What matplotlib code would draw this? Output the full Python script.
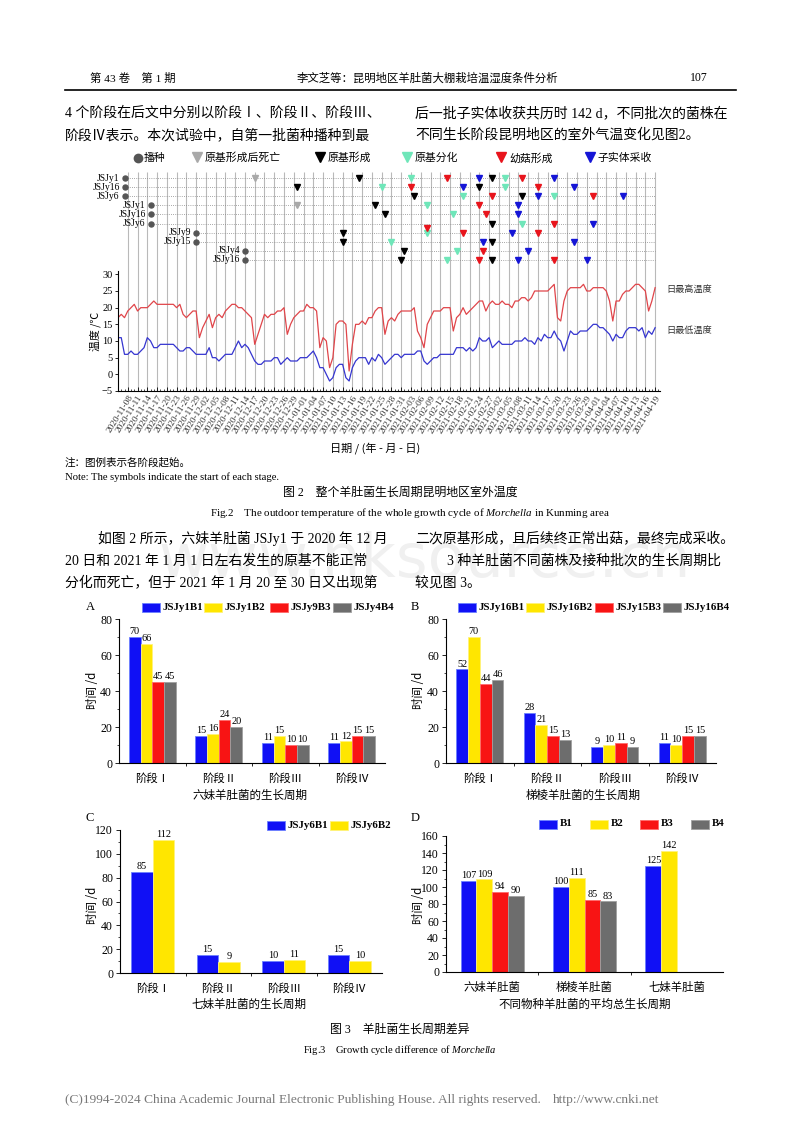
import numpy as np
import pandas as pd
import matplotlib
matplotlib.use('Agg')
import matplotlib.pyplot as plt
import matplotlib.dates as mdates
from matplotlib.patches import Rectangle

plt.rcParams['font.family'] = ['Liberation Serif', 'Noto Sans CJK SC', 'DejaVu Sans']
plt.rcParams['mathtext.fontset'] = 'custom'
plt.rcParams['mathtext.rm'] = 'Liberation Serif'
plt.rcParams['mathtext.it'] = 'Liberation Serif:italic'

FS = ['Liberation Serif', 'Noto Sans CJK SC', 'DejaVu Sans']
CJK = ['Noto Sans CJK SC', 'Liberation Serif', 'DejaVu Sans']

# ---------------- data: Fig.2 temperature ----------------
temp_start = '2020-11-05'
tmax = [17, 18, 17, 19, 20, 21, 19, 20, 20, 20,
        21, 22, 21, 21, 21, 21, 21, 21, 20, 21,
        18, 17, 18, 19, 19, 11, 14, 16, 18, 14,
        17, 18, 17, 19, 20, 21, 21, 20, 20, 19,
        18, 17, 9, 12, 15, 18, 17, 18, 18, 19,
        19, 20, 12, 15, 17, 18, 19, 19, 21, 20,
        20, 19, 8, 11, 10, 2, 5, 15, 16, 16,
        15, 1, 9, 15, 15, 16, 15, 17, 17, 19,
        20, 20, 12, 16, 17, 16, 18, 19, 19, 19,
        19, 20, 13, 11, 8, 15, 17, 19, 19, 19,
        20, 20, 20, 13, 17, 18, 20, 18, 19, 20,
        21, 22, 22, 19, 21, 22, 21, 21, 22, 21,
        21, 20, 22, 22, 23, 23, 22, 23, 25, 25,
        25, 25, 25, 26, 27, 17, 16, 22, 25, 26,
        26, 26, 26, 27, 25, 25, 26, 26, 26, 26,
        25, 22, 16, 22, 22, 24, 25, 25, 26, 27,
        27, 26, 25, 19, 22, 26]
tmin = [11, 11, 6, 6, 7, 6, 6, 7, 8, 11,
        10, 8, 8, 9, 9, 9, 9, 9, 8, 7,
        7, 8, 8, 7, 6, 6, 6, 6, 8, 5,
        5, 4, 5, 6, 6, 6, 8, 10, 8, 9,
        8, 6, 4, 3, 3, 4, 4, 4, 5, 5,
        3, 4, 5, 4, 4, 4, 5, 5, 5, 6,
        7, 5, 2, 2, 0, -2, -1, 2, 3, 3,
        -1, -2, 2, 4, 5, 5, 5, 3, 5, 4,
        6, 5, 3, 4, 5, 6, 6, 5, 6, 6,
        6, 6, 7, 7, 4, 3, 4, 5, 5, 6,
        6, 6, 6, 6, 8, 8, 8, 7, 8, 7,
        8, 11, 10, 10, 11, 8, 9, 10, 9, 9,
        9, 9, 10, 10, 10, 11, 10, 10, 9, 11,
        10, 12, 11, 11, 13, 11, 10, 7, 10, 13,
        12, 12, 13, 13, 13, 14, 15, 15, 14, 14,
        13, 12, 10, 12, 11, 11, 13, 14, 14, 14,
        13, 14, 11, 13, 12, 14]

# ---------------- data: Fig.2 stage symbols (day offset from base date) ----------------
stage_base = '2020-11-08'
row_labels = ['JSJy1', 'JSJy16', 'JSJy6', 'JSJy1', 'JSJy16', 'JSJy6',
              'JSJy9', 'JSJy15', 'JSJy4', 'JSJy16']
sow_day = [-1, -1, -1, 7, 7, 7, 21, 21, 36, 36]
stage_names = ['原基形成后死亡', '原基形成', '原基分化', '幼菇形成', '子实体采收']
stage_colors = ['#a9a9a9', '#000000', '#6fe6b9', '#e8141c', '#1515d6']
ev_dead = [(0, 39), (3, 52)]
ev_form = [(0, 71), (0, 112), (1, 52), (1, 108), (2, 88), (2, 121), (3, 76), (4, 79),
           (5, 112), (6, 66), (7, 66), (7, 112), (8, 85), (9, 84), (9, 112)]
ev_diff = [(0, 87), (0, 116), (1, 78), (1, 116), (2, 103), (2, 131), (3, 92), (4, 100),
           (5, 121), (6, 92), (7, 81), (8, 101), (9, 98)]
ev_young = [(0, 98), (0, 121), (1, 87), (1, 126), (2, 112), (2, 143), (3, 108), (4, 110),
            (5, 131), (6, 92), (6, 103), (6, 126), (8, 109), (9, 108), (9, 131)]
ev_harvest = [(0, 108), (0, 131), (1, 103), (1, 137), (2, 126), (2, 152), (3, 120), (4, 120),
              (5, 143), (6, 118), (7, 109), (7, 137), (8, 123), (9, 120), (9, 141)]
events = [ev_dead, ev_form, ev_diff, ev_young, ev_harvest]

# ---------------- data: Fig.3 ----------------
stage_groups = ['阶段Ⅰ', '阶段Ⅱ', '阶段Ⅲ', '阶段Ⅳ']
A_series = ['JSJy1B1', 'JSJy1B2', 'JSJy9B3', 'JSJy4B4']
A_vals = [[70, 15, 11, 11], [66, 16, 15, 12], [45, 24, 10, 15], [45, 20, 10, 15]]
B_series = ['JSJy16B1', 'JSJy16B2', 'JSJy15B3', 'JSJy16B4']
B_vals = [[52, 28, 9, 11], [70, 21, 10, 10], [44, 15, 11, 15], [46, 13, 9, 15]]
C_series = ['JSJy6B1', 'JSJy6B2']
C_vals = [[85, 15, 10, 15], [112, 9, 11, 10]]
D_groups = ['六妹羊肚菌', '梯棱羊肚菌', '七妹羊肚菌']
D_series = ['B1', 'B2', 'B3', 'B4']
D_vals = [[107, 100, 125], [109, 111, 142], [94, 85, None], [90, 83, None]]

bar_colors = ['#1010f5', '#ffe600', '#f81414', '#6d6d6d']
bar_edges = ['#6c80ff', '#fff27a', '#ff6a6a', '#a0a0a0']

# ---------------- figure ----------------
W, H = 800, 1132
fig = plt.figure(figsize=(8, 11.32), dpi=100)


def rect(l, t, r, b):
    return [l / W, 1 - b / H, (r - l) / W, (b - t) / H]


bg = fig.add_axes([0, 0, 1, 1])
bg.set_xlim(0, W)
bg.set_ylim(H, 0)
bg.axis('off')

# watermark
bg.text(425, 560, 'www.hksource.cn', ha='center', va='center', fontsize=44,
        color='#f0f0f0', family='DejaVu Sans', zorder=0)

# header
bg.text(90, 78, '第 43 卷　第 1 期', ha='left', va='center', fontsize=8.2, family=FS)
bg.text(427, 78, '李文芝等：昆明地区羊肚菌大棚栽培温湿度条件分析', ha='center', va='center',
        fontsize=8.2, family=CJK)
bg.text(708, 78, '107', ha='right', va='center', fontsize=8.5, family=FS)
bg.plot([65, 736], [90, 90], color='black', lw=1.2)

body = 10
bg.text(65, 113, '4 个阶段在后文中分别以阶段Ⅰ、阶段Ⅱ、阶段Ⅲ、', fontsize=body, va='center', family=FS)
bg.text(65, 135, '阶段Ⅳ表示。本次试验中，自第一批菌种播种到最', fontsize=body, va='center', family=FS)
bg.text(415, 113, '后一批子实体收获共历时 142 d，不同批次的菌株在', fontsize=body, va='center', family=FS)
bg.text(415, 135, '不同生长阶段昆明地区的室外气温变化见图2。', fontsize=body, va='center', family=FS)

bg.text(98, 538, '如图 2 所示，六妹羊肚菌 JSJy1 于 2020 年 12 月', fontsize=body, va='center', family=FS)
bg.text(65, 561, '20 日和 2021 年 1 月 1 日左右发生的原基不能正常', fontsize=body, va='center', family=FS)
bg.text(65, 583, '分化而死亡，但于 2021 年 1 月 20 至 30 日又出现第', fontsize=body, va='center', family=FS)
bg.text(415, 538, '二次原基形成，且后续终正常出菇，最终完成采收。', fontsize=body, va='center', family=FS)
bg.text(447, 561, '3 种羊肚菌不同菌株及接种批次的生长周期比', fontsize=body, va='center', family=FS)
bg.text(415, 583, '较见图 3。', fontsize=body, va='center', family=FS)

# ---------------- Fig.2 ----------------
dates = pd.date_range(temp_start, periods=len(tmax), freq='D')
base = pd.Timestamp(stage_base)


def day(d):
    return base + pd.Timedelta(days=d)


x0 = pd.Timestamp('2020-11-05')
x1 = pd.Timestamp('2021-04-20 12:00')
major = pd.date_range('2020-11-08', '2021-04-19', freq='3D')

axT = fig.add_axes(rect(118, 271, 660, 391), facecolor='none')
axS = fig.add_axes(rect(118, 168, 660, 271), facecolor='none')
for a in (axT, axS):
    a.set_xlim(x0, x1)

for d in major:
    axT.axvline(d, color='#b9b9b9', lw=0.8, zorder=0)
axS.vlines(major, -0.7, 10.22, color='#b9b9b9', lw=0.8, zorder=0)

axT.plot(dates, tmax, color='#e0454a', lw=0.9)
axT.plot(dates, tmin, color='#3535d0', lw=0.9)
axT.set_ylim(-5, 31)
axT.set_yticks(range(-5, 31, 5))
axT.set_xticks(major)
axT.set_xticklabels([d.strftime('%Y-%m-%d') for d in major], rotation=58, ha='right',
                    rotation_mode='anchor', fontsize=6.7, color='#333333')
axT.xaxis.set_minor_locator(mdates.DayLocator())
axT.tick_params(axis='x', which='major', direction='in', length=3, width=0.6, pad=2)
axT.tick_params(axis='x', which='minor', direction='in', length=1.5, width=0.5)
axT.tick_params(axis='y', which='major', direction='out', length=2.5, width=0.6, labelsize=7.5, pad=1.5)
for s in ('top', 'right'):
    axT.spines[s].set_visible(False)
for s in ('left', 'bottom'):
    axT.spines[s].set_linewidth(0.8)

axS.set_ylim(10.22, -1.1)
axS.axis('off')

end_day = day(162)
for i, lab in enumerate(row_labels):
    sd = day(sow_day[i])
    axS.hlines(i, sd, end_day, colors='#8a8a8a', linestyles=(0, (1, 1.6)), lw=0.6, zorder=1)
    axS.plot(sd, i, 'o', color='#555555', ms=3.6, zorder=3)
    axS.annotate(lab, (sd, i), xytext=(-3.5, 0), textcoords='offset points', ha='right',
                 va='center', fontsize=6.9, family='Liberation Serif')

placed = set()
for k, evs in enumerate(events):
    for r, d in evs:
        off = -0.5 if (r, d) in placed else 0.0
        placed.add((r, d))
        axS.plot(day(d), r + off, 'v', color=stage_colors[k], ms=4.3, mec=stage_colors[k], zorder=4)

# legend of symbols
bg.plot(138, 158, 'o', color='#555555', ms=6)
bg.text(144, 158, '播种', fontsize=7.8, va='center', family=CJK)
leg_x = [197, 320, 407, 501, 590]
for k in range(5):
    bg.plot(leg_x[k], 157, 'v', color=stage_colors[k], ms=6.5)
    bg.text(leg_x[k] + 8, 158, stage_names[k], fontsize=7.8, va='center', family=CJK)

bg.text(666, 289, '日最高温度', fontsize=6.6, va='center', family=CJK, color='#333333')
bg.text(666, 330, '日最低温度', fontsize=6.6, va='center', family=CJK, color='#333333')
bg.text(95, 331, '温度 /℃', rotation=90, ha='center', va='center', fontsize=7.8, family=CJK)
bg.text(375, 448, '日期 / (年 - 月 - 日)', ha='center', va='center', fontsize=8, family=CJK)

bg.text(65, 462, '注：图例表示各阶段起始。', fontsize=7.6, va='center', family=CJK)
bg.text(65, 477, 'Note: The symbols indicate the start of each stage.', fontsize=7.7, va='center',
        family='Liberation Serif')
bg.text(400, 493, '图 2　整个羊肚菌生长周期昆明地区室外温度', ha='center', va='center',
        fontsize=8.6, family=FS)
bg.text(410, 513, r'Fig.2    The outdoor temperature of the whole growth cycle of $\it{Morchella}$ in Kunming area',
        ha='center', va='center', fontsize=7.9, family='Liberation Serif')


# ---------------- Fig.3 ----------------
def bar_panel(box, groups, series, vals, ymax, bw, label_letter, letter_xy,
              leg_xs, leg_y, ylab_xy, xlab, xlab_xy):
    ax = fig.add_axes(rect(*box), facecolor='none')
    n = len(series)
    xs = np.arange(len(groups))
    for j in range(n):
        for g in range(len(groups)):
            v = vals[j][g]
            if v is None:
                continue
            xp = xs[g] + (j - (n - 1) / 2) * bw
            ax.bar(xp, v, width=bw, color=bar_colors[j], edgecolor=bar_edges[j], lw=0.6, zorder=2)
            ax.annotate(str(v), (xp, v), xytext=(0, 0.6), textcoords='offset points',
                        ha='center', va='bottom', fontsize=7.4, family='Liberation Serif')
    ax.set_xlim(-0.5, len(groups) - 0.5)
    ax.set_ylim(0, ymax)
    ax.set_yticks(np.arange(0, ymax + 1, 20))
    ax.set_yticks(np.arange(10, ymax, 20), minor=True)
    ax.set_xticks(xs)
    ax.set_xticklabels(groups, family=CJK, fontsize=8.2)
    ax.set_xticks(np.arange(0.5, len(groups) - 0.5, 1), minor=True)
    ax.tick_params(axis='x', which='major', length=0, pad=7)
    ax.tick_params(axis='x', which='minor', length=2.5, width=0.6, direction='out')
    ax.tick_params(axis='y', which='major', length=3, width=0.6, direction='out', labelsize=8.5, pad=2)
    ax.tick_params(axis='y', which='minor', length=1.8, width=0.5, direction='out')
    for s in ('top', 'right'):
        ax.spines[s].set_visible(False)
    for s in ('left', 'bottom'):
        ax.spines[s].set_linewidth(0.8)
    bg.text(letter_xy[0], letter_xy[1], label_letter, fontsize=9, va='center', family='Liberation Serif')
    for j in range(n):
        bg.add_patch(Rectangle((leg_xs[j], leg_y - 4.5), 18, 9, facecolor=bar_colors[j],
                               edgecolor=bar_edges[j], lw=0.6))
        bg.text(leg_xs[j] + 21, leg_y, series[j], fontsize=7.8, va='center', weight='bold',
                family='Liberation Serif')
    bg.text(ylab_xy[0], ylab_xy[1], '时间 /d', rotation=90, ha='center', va='center',
            fontsize=8.3, family=CJK)
    bg.text(xlab_xy[0], xlab_xy[1], xlab, ha='center', va='center', fontsize=8.3, family=CJK)
    return ax


bar_panel((119, 619, 385, 763), stage_groups, A_series, A_vals, 80, 0.175, 'A', (86, 607),
          [142, 204, 270, 333], 607, (92, 690), '六妹羊肚菌的生长周期', (250, 795))
bar_panel((446, 619, 716, 763), stage_groups, B_series, B_vals, 80, 0.175, 'B', (411, 607),
          [458, 526, 595, 663], 607, (418, 690), '梯棱羊肚菌的生长周期', (583, 795))
bar_panel((120, 830, 382, 973), stage_groups, C_series, C_vals, 120, 0.33, 'C', (86, 818),
          [267, 330], 825, (92, 905), '七妹羊肚菌的生长周期', (249, 1004))
bar_panel((446, 836, 723, 972), D_groups, D_series, D_vals, 160, 0.17, 'D', (411, 818),
          [539, 590, 640, 691], 824, (418, 905), '不同物种羊肚菌的平均总生长周期', (585, 1004))

bg.text(400, 1030, '图 3　羊肚菌生长周期差异', ha='center', va='center', fontsize=8.6, family=FS)
bg.text(400, 1050, r'Fig.3    Growth cycle difference of $\it{Morchella}$', ha='center', va='center',
        fontsize=7.6, family='Liberation Serif')

bg.text(65, 1100, '(C)1994-2024 China Academic Journal Electronic Publishing House. All rights reserved.',
        ha='left', va='center', fontsize=9.6, color='#777777', family='Liberation Serif')
bg.text(553, 1100, 'http://www.cnki.net',
        ha='left', va='center', fontsize=9.6, color='#777777', family='Liberation Serif')

fig.savefig('out.png', dpi=100)
